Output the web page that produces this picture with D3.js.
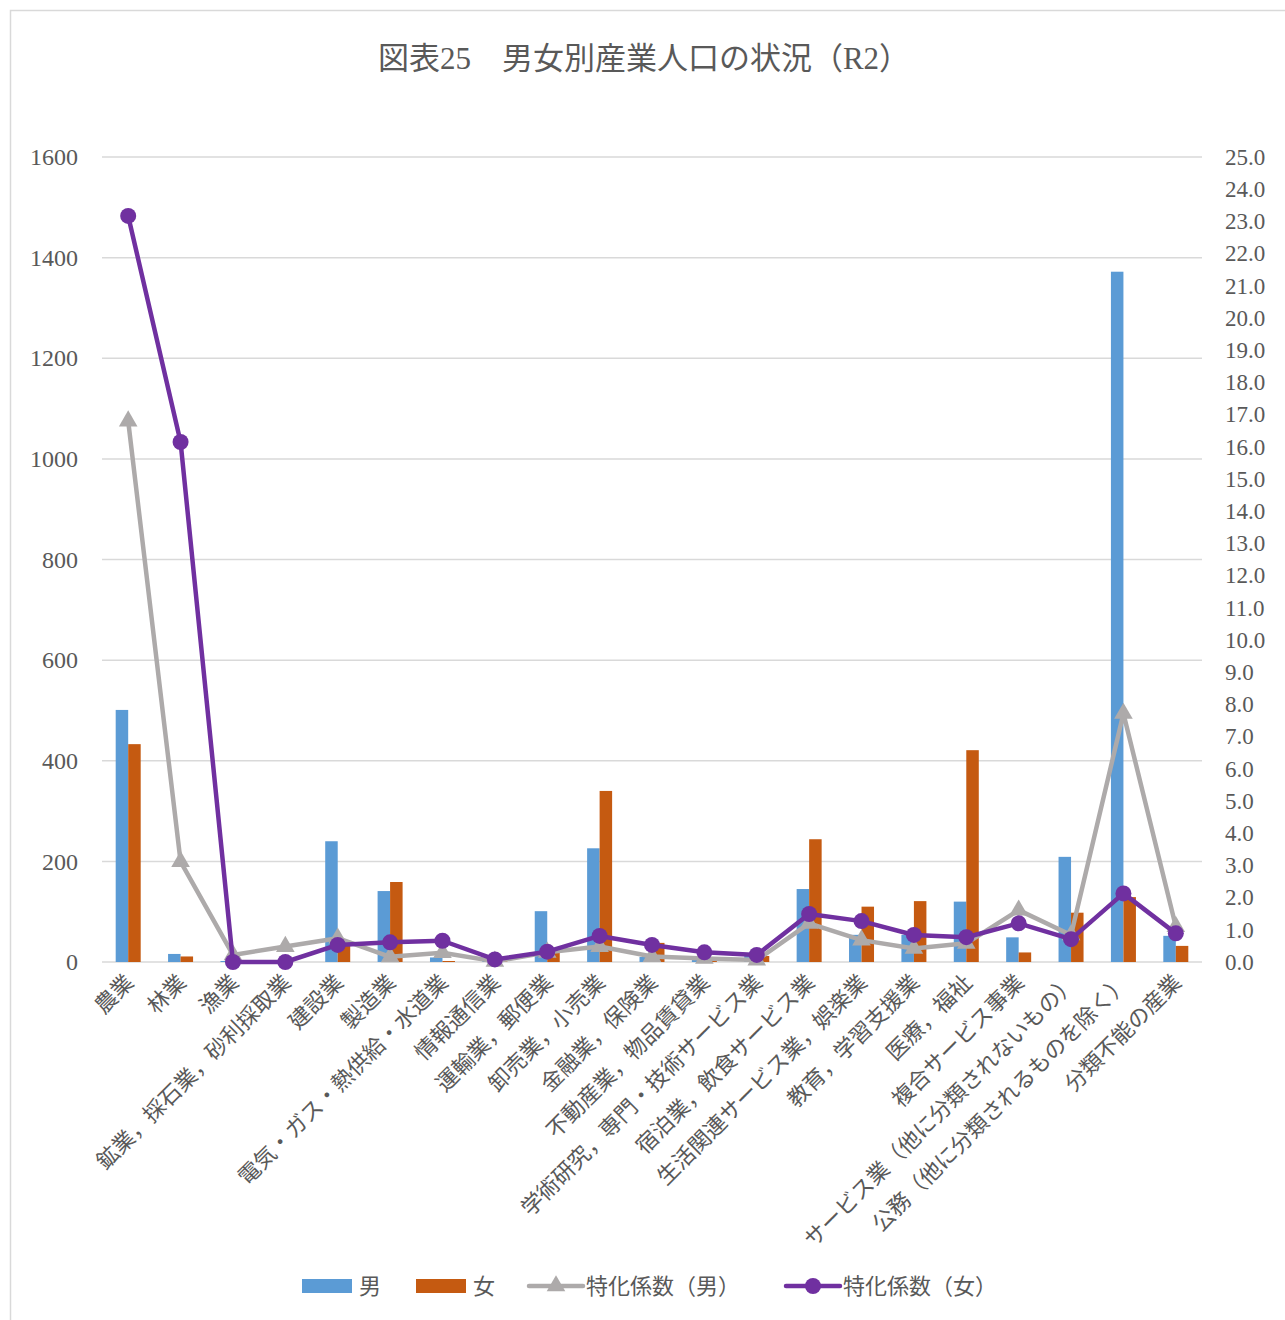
<!DOCTYPE html>
<html>
<head>
<meta charset="utf-8">
<script src="https://cdn.jsdelivr.net/npm/d3@7"></script>
<style>
  body { margin: 0; background: #fff; }
  svg text { font-family: "Liberation Serif", "Noto Sans CJK JP", serif; fill: #595959; }
</style>
</head>
<body>
<div id="chart"></div>
<script>

/* Data */
/* ---- */

var categories = ['農業', '林業', '漁業', '鉱業，採石業，砂利採取業', '建設業', '製造業',
  '電気・ガス・熱供給・水道業', '情報通信業', '運輸業，郵便業', '卸売業，小売業',
  '金融業，保険業', '不動産業，物品賃貸業', '学術研究，専門・技術サービス業',
  '宿泊業，飲食サービス業', '生活関連サービス業，娯楽業', '教育，学習支援業',
  '医療，福祉', '複合サービス事業', 'サービス業（他に分類されないもの）',
  '公務（他に分類されるものを除く）', '分類不能の産業'];

var male   = [501, 16, 2, 0, 240, 141, 9, 3, 101, 226, 10, 5, 12, 145, 54, 54, 120, 49, 209, 1372, 52];
var female = [433, 11, 1, 0, 35, 159, 2, 1, 20, 340, 38, 8, 12, 244, 110, 121, 421, 19, 98, 129, 32];
var coefMale   = [16.8, 3.12, 0.22, 0.48, 0.74, 0.16, 0.29, 0.02, 0.30, 0.48, 0.17, 0.11, 0.06, 1.20, 0.68, 0.42, 0.58, 1.61, 0.84, 7.72, 1.10];
var coefFemale = [23.17, 16.15, 0.0, 0.0, 0.53, 0.61, 0.66, 0.08, 0.32, 0.81, 0.53, 0.30, 0.22, 1.49, 1.27, 0.84, 0.77, 1.20, 0.71, 2.13, 0.89];

var leftTicks = [0, 200, 400, 600, 800, 1000, 1200, 1400, 1600];
var rightTicks = d3.range(0, 26, 1);

var colours = { male: '#5B9BD5', female: '#C55A11', coefMale: '#ADAAAA', coefFemale: '#7030A0' };


/* Setup */
/* ----- */

var W = 1285, H = 1320;
var margin = { top: 157, right: 83, bottom: 358, left: 102 };
var width = W - margin.left - margin.right,
    height = H - margin.top - margin.bottom;

var svg = d3.select('#chart').append('svg')
    .attr('width', W).attr('height', H);

// outer frame
svg.append('rect')
    .attr('x', 10.5).attr('y', 10.5)
    .attr('width', W + 10).attr('height', H + 10)
    .attr('fill', 'none').attr('stroke', '#d9d9d9').attr('stroke-width', 1.5);

svg.append('text')
    .attr('x', 644).attr('y', 69)
    .attr('text-anchor', 'middle')
    .style('font-size', '31px')
    .text('図表25　男女別産業人口の状況（R2）');

var g = svg.append('g').attr('transform', 'translate(' + margin.left + ', ' + margin.top + ')');

// Scales
var x = d3.scaleBand().domain(categories).range([0, width]);
var xInner = d3.scaleBand().domain(['male', 'female']).range([0, 25]);
var yL = d3.scaleLinear().domain([0, 1600]).range([height, 0]);
var yR = d3.scaleLinear().domain([0, 25]).range([height, 0]);

// Grid
g.append('g').selectAll('line')
  .data(leftTicks)
  .join('line')
    .attr('x1', 0).attr('x2', width)
    .attr('y1', function(d) { return yL(d); })
    .attr('y2', function(d) { return yL(d); })
    .attr('stroke', '#d9d9d9').attr('stroke-width', 1.5);

// Left axis
var axL = g.append('g').call(d3.axisLeft(yL).tickValues(leftTicks).tickFormat(d3.format('d')).tickSize(0).tickPadding(24));
axL.select('.domain').remove();
axL.selectAll('text').style('font-size', '24px').attr('fill', '#595959');

// Right axis
var axR = g.append('g').attr('transform', 'translate(' + width + ', 0)')
    .call(d3.axisRight(yR).tickValues(rightTicks).tickFormat(d3.format('.1f')).tickSize(0).tickPadding(23));
axR.select('.domain').remove();
axR.selectAll('text').style('font-size', '23px').attr('fill', '#595959');

// Bars
var groups = g.append('g').selectAll('g')
  .data(categories)
  .join('g')
    .attr('transform', function(d) { return 'translate(' + (x(d) + x.bandwidth() / 2 - 12.5) + ', 0)'; });

groups.append('rect')
    .attr('x', xInner('male'))
    .attr('width', xInner.bandwidth())
    .attr('y', function(d, i) { return yL(male[i]); })
    .attr('height', function(d, i) { return height - yL(male[i]); })
    .attr('fill', colours.male);

groups.append('rect')
    .attr('x', xInner('female'))
    .attr('width', xInner.bandwidth())
    .attr('y', function(d, i) { return yL(female[i]); })
    .attr('height', function(d, i) { return height - yL(female[i]); })
    .attr('fill', colours.female);

// Lines
function cx(i) { return x(categories[i]) + x.bandwidth() / 2; }

var line = d3.line()
    .x(function(d, i) { return cx(i); })
    .y(function(d) { return yR(d); });

g.append('path').datum(coefMale)
    .attr('d', line).attr('fill', 'none')
    .attr('stroke', colours.coefMale).attr('stroke-width', 4.5).attr('stroke-linejoin', 'round');

var tri = d3.symbol().type(d3.symbolTriangle).size(150);
g.append('g').selectAll('path')
  .data(coefMale)
  .join('path')
    .attr('d', tri)
    .attr('transform', function(d, i) { return 'translate(' + cx(i) + ', ' + yR(d) + ')'; })
    .attr('fill', colours.coefMale);

g.append('path').datum(coefFemale)
    .attr('d', line).attr('fill', 'none')
    .attr('stroke', colours.coefFemale).attr('stroke-width', 4.5).attr('stroke-linejoin', 'round');

g.append('g').selectAll('circle')
  .data(coefFemale)
  .join('circle')
    .attr('cx', function(d, i) { return cx(i); })
    .attr('cy', function(d) { return yR(d); })
    .attr('r', 8)
    .attr('fill', colours.coefFemale);

// Category labels
g.append('g').selectAll('text')
  .data(categories)
  .join('text')
    .attr('transform', function(d) { return 'translate(' + (x(d) + x.bandwidth() / 2 + 7) + ', ' + (height + 22) + ') rotate(-45)'; })
    .attr('text-anchor', 'end')
    .style('font-size', '22px')
    .text(function(d) { return d; });


/* Legend */
/* ------ */

var lg = svg.append('g').attr('transform', 'translate(0, 1286)');

lg.append('rect').attr('x', 302).attr('y', -7).attr('width', 50).attr('height', 14).attr('fill', colours.male);
lg.append('text').attr('x', 359).attr('y', 8).style('font-size', '22px').text('男');

lg.append('rect').attr('x', 416).attr('y', -7).attr('width', 50).attr('height', 14).attr('fill', colours.female);
lg.append('text').attr('x', 473).attr('y', 8).style('font-size', '22px').text('女');

lg.append('line').attr('x1', 529).attr('x2', 583).attr('y1', 0).attr('y2', 0)
    .attr('stroke', colours.coefMale).attr('stroke-width', 4.5).attr('stroke-linecap', 'round');
lg.append('path').attr('d', tri).attr('transform', 'translate(556, 0)').attr('fill', colours.coefMale);
lg.append('text').attr('x', 586).attr('y', 8).style('font-size', '22px').text('特化係数（男）');

lg.append('line').attr('x1', 786).attr('x2', 840).attr('y1', 0).attr('y2', 0)
    .attr('stroke', colours.coefFemale).attr('stroke-width', 4.5).attr('stroke-linecap', 'round');
lg.append('circle').attr('cx', 813).attr('cy', 0).attr('r', 8).attr('fill', colours.coefFemale);
lg.append('text').attr('x', 843).attr('y', 8).style('font-size', '22px').text('特化係数（女）');

</script>
</body>
</html>
